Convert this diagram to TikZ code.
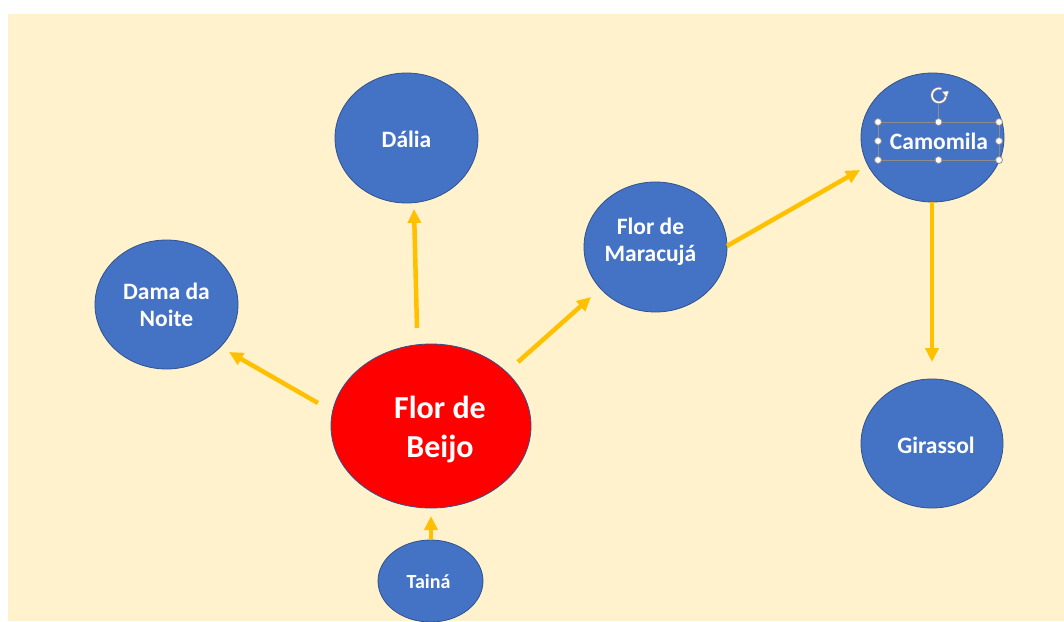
\documentclass[tikz,border=0pt]{standalone}
\usepackage{fontspec}
\setmainfont{Carlito}
\usetikzlibrary{arrows.meta,shapes.geometric,calc}
\definecolor{bgbeige}{HTML}{FFF2CC}
\definecolor{fillblue}{HTML}{4472C4}
\definecolor{edgeblue}{HTML}{2F528F}
\definecolor{fillred}{HTML}{FF0000}
\definecolor{arrowgold}{HTML}{FFC000}
\definecolor{handlegray}{HTML}{8C8C8C}
\begin{document}
\begin{tikzpicture}[x=1pt,y=-1pt,
  bubble/.style={ellipse, draw=edgeblue, line width=0.8pt, fill=fillblue, inner sep=0pt},
  lbl/.style={text=white, font=\bfseries\fontsize{23.5}{27}\selectfont, align=center, inner sep=0pt},
  biglbl/.style={text=white, font=\bfseries\fontsize{32}{39}\selectfont, align=center, inner sep=0pt},
  smalllbl/.style={text=white, font=\bfseries\fontsize{20}{24}\selectfont, align=center, inner sep=0pt},
  arr/.style={draw=arrowgold, line width=4.5pt, -{Triangle[width=13pt,length=14pt]}},
  handle/.style={circle, fill=white, draw=handlegray, line width=0.8pt, minimum size=7pt, inner sep=0pt},
]
\clip (0,0) rectangle (1064,621);
\fill[white] (0,0) rectangle (1064,621);
\fill[bgbeige] (8,14) rectangle (1064,621);

% nodes
\node[bubble, minimum width=143pt, minimum height=130pt,
  label={[lbl, shift={(0,1.5)}]center:Dália}] (dalia) at (406.5,138) {};
\node[bubble, minimum width=143pt, minimum height=129pt,
  label={[lbl, shift={(0,0)}]center:Dama da\\Noite}] (dama) at (166.5,304.5) {};
\node[bubble, fill=fillred, minimum width=200pt, minimum height=164pt,
  label={[biglbl, shift={(9,3)}]center:Flor de\\Beijo}] (beijo) at (431,426) {};
\node[bubble, minimum width=143pt, minimum height=130pt,
  label={[lbl, shift={(-5,-5)}]center:Flor de\\Maracujá}] (mara) at (655.5,247) {};
\node[bubble, minimum width=143pt, minimum height=129pt,
  label={[lbl, shift={(6.5,4)}]center:Camomila}] (camo) at (932.5,137.5) {};
\node[bubble, minimum width=142pt, minimum height=129pt,
  label={[lbl, shift={(4,1.5)}]center:Girassol}] (gira) at (932,443.5) {};
\node[bubble, minimum width=105pt, minimum height=82pt,
  label={[smalllbl, shift={(-2,1)}]center:Tainá}] (taina) at (430.5,581) {};

% connectors
\draw[arr] ($(beijo)+(-14,-98)$) -- ($(dalia)+(7.5,71)$);
\draw[arr] ($(beijo)+(-113,-23)$) -- ($(dama)+(62.5,47.5)$);
\draw[arr] ($(beijo)+(87,-64)$) -- ($(mara)+(-64.5,50)$);
\draw[arr] ($(mara)+(71.5,-1)$) -- ($(camo)+(-72.5,32.5)$);
\draw[arr] ($(camo)+(-0.5,64.5)$) -- ($(gira)+(0,-81.5)$);
\draw[arr] ($(taina)+(0.5,-41)$) -- ($(beijo)+(0,90)$);

% selection box around the Camomila text
\draw[handlegray, line width=0.8pt] (878,122) rectangle (999,160);
\draw[handlegray, line width=0.8pt] (938.5,122) -- (938.5,102);
\draw[handlegray, line width=3pt] (945.5,93) arc[start angle=-20, end angle=290, radius=7];
\draw[white, line width=1.5pt] (945.5,93) arc[start angle=-20, end angle=290, radius=7];
\fill[white, draw=handlegray, line width=0.5pt] (942,91.5) -- (949,91) -- (946.5,97.5) -- cycle;
\foreach \hx/\hy in {878/122, 938.5/122, 999/122, 878/141, 999/141, 878/160, 938.5/160, 999/160}
  \node[handle] at (\hx,\hy) {};
\end{tikzpicture}
\end{document}
